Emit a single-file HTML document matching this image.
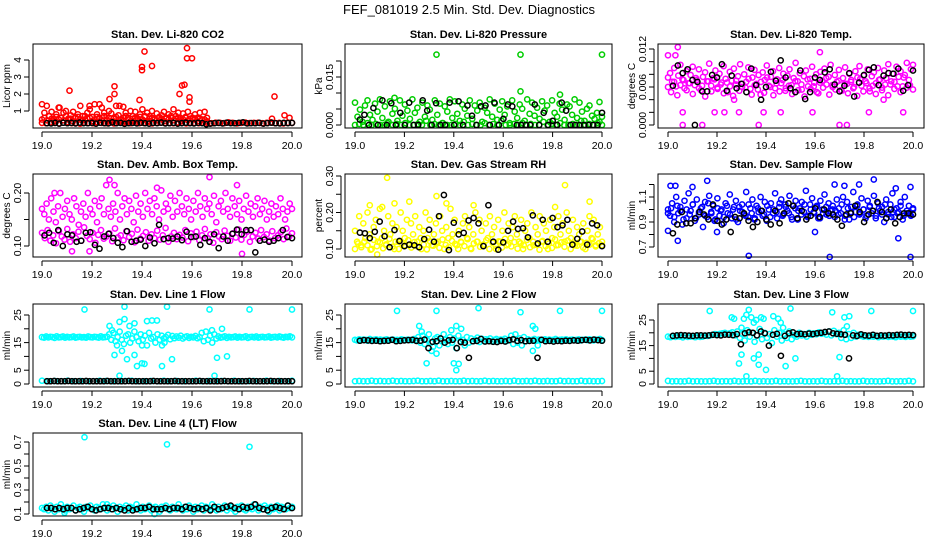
<!DOCTYPE html>
<html><head><meta charset="utf-8"><style>
html,body{margin:0;padding:0;background:#fff;}
svg{display:block;font-family:"Liberation Sans",Arial,sans-serif;}
</style></head><body>
<svg id="chart" width="936" height="540" viewBox="0 0 936 540" xmlns="http://www.w3.org/2000/svg">
<rect x="0" y="0" width="936" height="540" fill="#fff"/>
<text x="469" y="14" text-anchor="middle" font-size="13" fill="#000">FEF_081019  2.5 Min. Std. Dev. Diagnostics</text>
</svg>
<script>
// ---------- shared x ticks ----------
const xTicks = [19.0, 19.2, 19.4, 19.6, 19.8, 20.0];
const xTickLabels = ["19.0", "19.2", "19.4", "19.6", "19.8", "20.0"];

// ---------- P1 CO2 ----------
const co2RedBase = [0.3,0.28,0.33,0.3,0.27,0.31,0.35,0.29,0.3,0.26,0.32,0.3,0.28,0.34,0.3,0.29,0.31,0.27,0.33,0.3,0.3,0.28,0.32,0.29,0.3,0.35,0.27,0.3,0.31,0.29,0.3,0.28,0.33,0.3,0.27,0.31,0.3,0.29,0.32,0.3,0.28,0.31,0.3,0.29,0.33,0.3,0.27,0.3,0.32,0.29,0.3,0.31,0.28,0.3,0.33,0.29,0.3,0.27,0.31,0.3];
const co2RedHigh = [1.4,0.9,1.3,0.7,0.95,0.5,0.8,1.2,0.6,0.9,1.0,0.55,0.75,0.95,0.6,0.8,1.3,0.7,0.5,0.9,1.1,0.65,1.4,0.8,0.6,1.2,0.9,0.7,1.0,0.85,0.6,1.3,0.75,0.5,1.25,0.9,0.6,1.0,0.7,0.95,0.55,0.8,1.1,0.65,0.9,0.7,1.0,0.5,0.85,0.6,0.75,0.95,0.55,0.8,0.6,1.1,0.7,0.9,0.5,0.85,0.6,0.95,0.7,0.55,0.8,0.6,0.9,0.5,0.95,0.6];
const co2RedMid = [0.5,0.6,0.45,0.7,0.55,0.4,0.65,0.5,0.6,0.45,0.7,0.5,0.55,0.4,0.6,0.65,0.5,0.45,0.7,0.55,0.6,0.4,0.5,0.65,0.55,0.45,0.7,0.5,0.6,0.4,0.55,0.65,0.5,0.45,0.6,0.7,0.5,0.4,0.55,0.6,0.45,0.65,0.5,0.7,0.4,0.55,0.6,0.5,0.45,0.65,0.55,0.4,0.6,0.5,0.7,0.45,0.55,0.6,0.4,0.5,0.65,0.45,0.55,0.6,0.5,0.4,0.55,0.45,0.5,0.4];
const co2OutX = [19.11,19.27,19.29,19.29,19.39,19.40,19.40,19.41,19.44,19.55,19.56,19.57,19.58,19.58,19.60,19.59,19.59,19.93,19.92,19.97,19.99,19.07,19.19,19.23,19.31];
const co2OutY = [2.2,1.7,2.45,2.0,1.65,3.4,3.6,4.5,3.65,2.0,2.5,2.55,4.7,4.1,4.1,1.8,1.55,1.85,0.55,0.75,0.6,1.2,1.3,1.4,1.3];
const co2Black = [0.28,0.27,0.3,0.26,0.31,0.28,0.3,0.27,0.32,0.29,0.28,0.3,0.26,0.31,0.29,0.27,0.33,0.28,0.3,0.25,0.29,0.3,0.27,0.31,0.28,0.26,0.3,0.29,0.32,0.27,0.28,0.3,0.26,0.29,0.31,0.28,0.27,0.3,0.29,0.22,0.26,0.28,0.3,0.27,0.31,0.29,0.28,0.3,0.33,0.27,0.29,0.28,0.3,0.26,0.29,0.31,0.28,0.27,0.3,0.29,0.3];
const co2Ticks = [1,2,3,4];
const co2TickLabels = ["1","2","3","4"];

// ---------- P2 Pressure ----------
const presGreen = [0.0070,0.0026,0.0048,0.0010,0.0061,0.0077,0.0032,0.0016,0.0067,0.0042,0.0080,0.0022,0.0058,0.0006,0.0074,0.0035,0.0051,0.0013,0.0077,0.0029,0.0064,0.0045,0.0019,0.0080,0.0038,0.0054,0.0010,0.0070,0.0026,0.0061,0.0048,0.0016,0.0077,0.0032,0.0067,0.0006,0.0058,0.0042,0.0080,0.0022,0.0074,0.0035,0.0013,0.0064,0.0051,0.0029,0.0077,0.0019,0.0061,0.0045,0.0070,0.0010,0.0054,0.0038,0.0080,0.0026,0.0067,0.0016,0.0048,0.0074,0.0032,0.0058,0.0006,0.0077,0.0042,0.0022,0.0064,0.0051,0.0013,0.0080,0.0035,0.0070,0.0029,0.0054,0.0019,0.0074,0.0045,0.0061,0.0010,0.0077,0.0038,0.0026,0.0067,0.0048,0.0016,0.0064,0.0058,0.0032,0.0080,0.0022,0.0070,0.0042,0.0013,0.0051,0.0061,0.0029,0.0019,0.0038,0.0010,0.0026];
const presGreenLow = [0,0.0003,0,0.0006,0,0.0003,0,0,0.001,0,0.0003,0,0.0006,0,0,0.0003,0,0.0013,0,0.0003,0,0.0006,0,0,0.0003,0,0.001,0,0.0003,0,0,0.0006,0,0.0003,0,0.0013,0,0,0.0003,0,0.0006,0,0.0003,0,0,0.001,0,0.0003,0,0.0006,0,0,0.0003,0,0.0013,0,0.0003,0,0.0006,0];
const presOutX = [19.33,19.67,20.0,19.67,19.83,19.16,19.99];
const presOutY = [0.022,0.022,0.022,0.0105,0.0095,0.0085,0.0072];
const presBlack = [0.0017,0.0032,0,0.0053,0,0.0077,0,0.0068,0,0.0038,0,0.0070,0,0,0.0077,0.0045,0,0.0068,0,0,0.0070,0,0.0074,0,0.0061,0.0029,0,0.0058,0.0061,0,0.0070,0,0.0019,0.0064,0.0058,0,0,0,0,0.0064,0,0.0038,0,0.0013,0,0.0070,0.0045,0,0,0,0,0,0,0,0.0038];
const presTicks = [0,0.005,0.010,0.015,0.020];
const presTickLabels = ["0.000","","","0.015",""];

// ---------- P3 Li-820 Temp ----------
const tempMag = [0.0075,0.0082,0.0068,0.009,0.0061,0.0078,0.0095,0.0072,0.0058,0.0085,0.0066,0.0079,0.0092,0.0063,0.0071,0.0088,0.0055,0.0076,0.0083,0.0069,0.0097,0.0062,0.0074,0.0086,0.0059,0.0081,0.0067,0.0093,0.0073,0.0052,0.0084,0.007,0.0089,0.0064,0.0077,0.0096,0.006,0.008,0.0068,0.0091,0.0057,0.0075,0.0087,0.0065,0.0079,0.0048,0.0083,0.0071,0.0094,0.0062,0.0076,0.0085,0.0058,0.0072,0.009,0.0066,0.0081,0.0054,0.0078,0.0088,0.0063,0.0074,0.0098,0.0069,0.0082,0.0056,0.0077,0.0086,0.0061,0.0073,0.0092,0.0067,0.008,0.005,0.0084,0.007,0.0089,0.0064,0.0076,0.0095,0.006,0.0079,0.0068,0.0087,0.0055,0.0074,0.0091,0.0065,0.0081,0.0071,0.0058,0.0085,0.0075,0.0093,0.0062,0.0078,0.0069,0.0088,0.0053,0.0077,0.0083,0.0066,0.009,0.0072,0.0059,0.0086,0.0074,0.0096,0.0064,0.0081,0.0068,0.0092,0.0076,0.0085,0.0061,0.0079,0.0098,0.0071,0.0088,0.0095];
const tempMag2 = [0.006,0.0052,0.0068,0.0047,0.0063,0.0071,0.0055,0.0066,0.0049,0.0074,0.0058,0.0062,0.0045,0.0069,0.0053,0.0072,0.0057,0.0064,0.005,0.0067,0.0061,0.0046,0.007,0.0054,0.0065,0.0059,0.0073,0.0048,0.0063,0.0056,0.0068,0.0051,0.0075,0.006,0.0047,0.0066,0.0053,0.0071,0.0058,0.0062,0.0049,0.0069,0.0055,0.0064,0.0045,0.0072,0.0057,0.0061,0.0052,0.0067,0.0059,0.0074,0.0048,0.0063,0.0056,0.007,0.0054,0.0065,0.005,0.0068,0.006,0.0046,0.0073,0.0053,0.0066,0.0058,0.0062,0.0049,0.0071,0.0055,0.0064,0.0047,0.0069,0.0057,0.0061,0.0052,0.0075,0.0059,0.0063,0.0056];
const tempOutX = [19.06,19.14,19.37,19.70,19.73,19.06,19.19,19.23,19.29,19.39,19.46,19.59,19.82,19.96,19.04,19.62,19.03,19.0,19.88,19.27];
const tempOutY = [0.0,0.0,0.0,0.0,0.0,0.002,0.002,0.002,0.002,0.002,0.002,0.002,0.002,0.002,0.0123,0.0115,0.011,0.011,0.004,0.004];
const tempBlack = [0.0062,0.0094,0.0082,0.0088,0.0071,0.0068,0.0053,0.0053,0.0079,0.0075,0.0096,0.0054,0.0078,0.0058,0.0065,0.0052,0.0089,0.0063,0.0040,0.0060,0.0084,0.0070,0.0102,0.0075,0.0058,0.0052,0.0086,0.0041,0.0052,0.0075,0.0071,0.0083,0.0088,0.0064,0.0053,0.0062,0.0082,0.0045,0.0067,0.0079,0.0087,0.0091,0.0063,0.0078,0.0082,0.0081,0.0089,0.0054,0.0063,0.0086];
const tempBlackOutX = [19.11];
const tempBlackOutY = [0.0];
const tempTicks = [0,0.002,0.004,0.006,0.008,0.010,0.012];
const tempTickLabels = ["0.000","","","0.006","","","0.012"];

// ---------- P4 Amb Box Temp ----------
const ambMagHi = [0.17,0.16,0.18,0.15,0.19,0.165,0.145,0.175,0.2,0.155,0.17,0.185,0.16,0.15,0.19,0.175,0.14,0.165,0.18,0.155,0.2,0.17,0.16,0.185,0.145,0.175,0.19,0.16,0.215,0.17,0.155,0.18,0.165,0.2,0.15,0.175,0.19,0.16,0.185,0.17,0.145,0.195,0.165,0.18,0.155,0.2,0.17,0.185,0.16,0.19,0.175,0.15,0.205,0.165,0.18,0.17,0.195,0.155,0.185,0.165,0.2,0.175,0.16,0.19,0.17,0.15,0.185,0.165,0.2,0.175,0.155,0.19,0.17,0.18,0.16,0.195,0.145,0.175,0.185,0.165,0.2,0.17,0.155,0.19,0.175,0.16,0.185,0.15,0.17,0.195,0.165,0.18,0.155,0.175,0.19,0.16,0.17,0.185,0.15,0.165,0.18,0.155,0.175,0.16,0.19,0.17,0.15,0.165,0.18,0.17];
const ambMagLo = [0.125,0.115,0.13,0.11,0.12,0.105,0.128,0.118,0.112,0.132,0.108,0.122,0.115,0.127,0.11,0.135,0.119,0.113,0.125,0.106,0.121,0.13,0.114,0.118,0.124,0.109,0.133,0.116,0.12,0.111,0.128,0.117,0.123,0.107,0.131,0.114,0.119,0.126,0.11,0.122,0.115,0.129,0.112,0.12,0.134,0.108,0.118,0.125,0.113,0.121,0.116,0.13,0.109,0.124,0.117,0.127,0.111,0.12,0.132,0.115,0.122,0.106,0.126,0.118,0.113,0.129,0.119,0.11,0.124,0.116,0.131,0.112,0.121,0.127,0.108,0.118,0.125,0.114,0.13,0.117,0.122,0.11,0.128,0.115,0.12,0.126,0.113,0.133,0.118,0.124];
const ambOutX = [19.27,19.29,19.67,19.78,19.80,19.19,19.12,19.05,19.46];
const ambOutY = [0.225,0.215,0.23,0.215,0.085,0.09,0.09,0.2,0.21];
const ambBlack = [0.12,0.125,0.106,0.13,0.1,0.122,0.12,0.108,0.11,0.125,0.126,0.102,0.095,0.118,0.123,0.115,0.106,0.098,0.128,0.108,0.11,0.112,0.1,0.116,0.105,0.14,0.113,0.115,0.114,0.118,0.111,0.127,0.117,0.118,0.102,0.115,0.108,0.122,0.096,0.118,0.11,0.123,0.131,0.122,0.13,0.13,0.088,0.11,0.112,0.108,0.11,0.115,0.13,0.117,0.115];
const ambTicks = [0.10,0.15,0.20];
const ambTickLabels = ["0.10","","0.20"];

// ---------- P5 Gas Stream RH ----------
const rhYelA = [0.15,0.12,0.19,0.11,0.17,0.13,0.2,0.14,0.1,0.16,0.18,0.12,0.21,0.13,0.15,0.11,0.19,0.14,0.17,0.1,0.16,0.12,0.2,0.15,0.13,0.18,0.11,0.17,0.14,0.19,0.12,0.16,0.1,0.15,0.2,0.13,0.18,0.11,0.14,0.17,0.12,0.19,0.15,0.1,0.16,0.13,0.21,0.14,0.18,0.11,0.15,0.12,0.17,0.19,0.13,0.16,0.1,0.14,0.2,0.12,0.18,0.15,0.11,0.17,0.13,0.19,0.14,0.16,0.1,0.18,0.12,0.15,0.2,0.11,0.17,0.13,0.16,0.19,0.14,0.12,0.18,0.1,0.15,0.17,0.13,0.2,0.11,0.16,0.14,0.19,0.12,0.17,0.15,0.1,0.18,0.13,0.16,0.11,0.19,0.14,0.17,0.12,0.2,0.15,0.13,0.18,0.11,0.16,0.14,0.12,0.17,0.1,0.15,0.19,0.13,0.18,0.11,0.14,0.16,0.12];
const rhYelB = [0.1,0.115,0.105,0.12,0.11,0.098,0.125,0.108,0.118,0.102,0.113,0.128,0.106,0.12,0.1,0.116,0.11,0.124,0.104,0.119,0.107,0.13,0.112,0.099,0.121,0.109,0.117,0.103,0.126,0.111,0.105,0.122,0.114,0.1,0.118,0.108,0.127,0.102,0.115,0.12,0.106,0.112,0.124,0.1,0.117,0.109,0.121,0.104,0.128,0.113,0.107,0.119,0.101,0.116,0.11,0.125,0.105,0.12,0.112,0.098,0.122,0.108,0.115,0.103,0.126,0.111,0.118,0.106,0.123,0.1,0.114,0.109,0.12,0.104,0.117,0.112,0.127,0.107,0.116,0.11];
const rhOutX = [19.13,19.85,19.33,19.06,19.11,19.16,19.22,19.37,19.48,19.81,19.95,19.09];
const rhOutY = [0.295,0.275,0.245,0.22,0.215,0.225,0.23,0.225,0.22,0.215,0.23,0.085];
const rhBlack = [0.145,0.143,0.13,0.147,0.175,0.135,0.105,0.152,0.122,0.108,0.112,0.11,0.105,0.127,0.153,0.12,0.19,0.248,0.097,0.172,0.14,0.144,0.178,0.185,0.17,0.108,0.22,0.12,0.098,0.118,0.15,0.175,0.155,0.157,0.132,0.192,0.115,0.18,0.12,0.185,0.16,0.165,0.18,0.112,0.128,0.148,0.112,0.17,0.165,0.108];
const rhTicks = [0.10,0.15,0.20,0.25,0.30];
const rhTickLabels = ["0.10","","0.20","","0.30"];

// ---------- P6 Sample Flow ----------
const sfBlue = [1.0,0.95,1.05,0.9,1.1,0.97,1.02,0.88,1.07,0.93,1.13,0.99,1.04,0.91,1.08,0.96,1.01,0.86,1.06,0.94,1.11,0.98,1.03,0.92,1.09,0.95,1.0,0.89,1.05,0.97,1.12,0.93,1.02,1.07,0.9,0.99,1.04,0.96,1.14,0.94,1.01,1.08,0.92,1.03,0.98,1.1,0.95,1.06,0.91,1.0,1.05,0.97,1.13,0.93,1.02,1.08,0.96,1.04,0.99,1.11,0.94,1.03,1.07,0.92,1.01,1.06,0.98,1.15,0.95,1.04,1.09,0.97,1.02,0.93,1.07,1.0,1.12,0.96,1.05,0.99,1.03,0.94,1.08,1.01,0.97,1.1,0.95,1.06,0.92,1.02,1.14,0.98,1.04,0.96,1.09,1.0,0.93,1.07,1.03,0.97,1.11,0.95,1.05,0.99,1.02,0.9,1.08,0.96,1.04,1.13,0.94,1.01,0.98,1.06,0.92,1.1,0.97,1.03,0.95,1.0];
const sfBlue2 = [0.97,1.01,0.94,1.03,0.99,0.92,1.0,0.96,1.04,0.93,0.98,1.02,0.95,1.05,0.97,0.91,1.01,0.99,0.94,1.03,0.96,1.0,0.92,1.02,0.98,0.95,1.04,0.97,0.93,1.01,0.99,0.96,1.03,0.94,1.0,0.98,1.05,0.95,1.02,0.97,0.92,1.01,0.99,0.96,1.04,0.94,1.0,0.98,1.03,0.93,0.97,1.02,0.95,1.0,0.99,0.96,1.04,0.92,1.01,0.98,0.94,1.03,0.97,1.0,0.95,1.02,0.99,0.93,1.01,0.96,1.04,0.98,0.94,1.0,0.97,1.03,0.95,0.99,0.96,1.01];
const sfOutX = [19.04,19.33,19.66,19.99,19.94,19.16,19.84,19.01,19.03,19.68,19.72,19.78,19.93,19.99,19.10,19.0,19.2,19.6];
const sfOutY = [0.75,0.63,0.62,0.62,0.77,1.23,1.24,1.19,1.19,1.2,1.19,1.2,1.17,1.18,1.18,0.83,0.82,0.82];
const sfBlack = [0.81,0.88,0.98,0.89,0.89,0.93,0.98,0.96,0.92,1.04,0.91,0.88,0.92,0.82,0.94,0.93,0.97,0.91,0.86,0.9,0.99,0.92,0.88,0.99,0.89,0.97,1.05,1.03,0.93,0.99,0.92,0.95,1.01,0.94,1.0,0.97,0.96,0.92,0.87,0.96,0.97,1.03,0.98,0.9,0.96,0.99,1.06,0.98,0.93,1.0,0.89,0.94,0.97,0.97,0.96];
const sfTicks = [0.7,0.8,0.9,1.0,1.1,1.2];
const sfTickLabels = ["0.7","","0.9","","1.1",""];

// ---------- P7 Line 1 Flow ----------
const l1Cyan = [17,16.8,17.2,16.9,17.1,17,16.7,17.3,16.9,17,17.2,16.8,17.1,16.9,17,17.2,16.8,17,17.1,16.9,17,16.8,17.2,17,16.9,17.1,17,16.8,17.3,16.9,17,17.1,18,16,18.5,15.5,17,19,16,14.5,17.5,18,15,16.5,19,17,15.5,18,16,17.5,14,18.5,16.5,17,15,18,16,17.5,16.5,17,17.8,16.2,17.4,16.6,17.2,16.8,17.5,16.5,17,17.3,16.7,17.1,16.9,17.4,16.6,17,18.5,15.5,19,16,17.5,15,18,16.5,17.2,16.8,17,17.3,16.7,17.1,16.9,17,17.2,16.8,17.1,16.9,17,17.3,16.7,17,17.1,16.9,17.2,16.8,17,17.1,16.9,17,17.2,16.8,17,17.1,16.9,17.2,17,16.8,17.1,17,17.3,16.9];
const l1CyanLow = [1.2,1,1.1,1,1.2,1,1.1,1,1,1.2,1.1,1,1,1.1,1.2,1,1,1.1,1,1.2,1,1.1,1,1,1.2,1,1.1,1,1.1,1,1.2,1,1,1.1,1,1.2,1,1.1,1,1.2];
const l1OutX = [19.17,19.33,19.50,19.67,19.83,20.0,19.33,19.31,19.42,19.44,19.46,19.35,19.37,19.30,19.29,19.32,19.34,19.37,19.38,19.40,19.41,19.48,19.52,19.31,19.69,19.70,19.74,19.48,19.49,19.28,19.27,19.68,19.72,19.40];
const l1OutY = [27,28,28,27,27,27,23.5,22.5,22.8,23,23,21,22,14,10.5,12,9,10.5,6.5,7.5,7.3,6.5,9,3,3,9.5,10,14,15,19.5,21,19.5,20,14];
const l1Black = [1,1,1.1,1,1,1,1.1,1,1,1,1,1.1,1,1,1,1,1,1.1,1,1,1,1,1,1.1,1,1,1,1,1,1,1.1,1,1,1,1,1,1.1,1,1,1,1,1,1,1.1,1,1,1,1,1,1,1.1,1,1,1,1,1,1,1.1,1,1,1,1,1,1.1,1,1,1,1,1,1];
const flowTicks = [0,5,10,15,20,25];
const flowTickLabels = ["0","5","","15","","25"];

// ---------- P8 Line 2 Flow ----------
const l2Cyan = [16,15.8,16.2,15.9,16.1,16,15.7,16.3,15.9,16,16.2,15.8,16.1,15.9,16,16.2,15.8,16,16.1,15.9,16,15.8,16.2,16,15.9,16.1,16,15.8,16.3,15.9,17,15,17.5,14.5,16,18,15,13.5,16.5,17,14,15.5,18,16,14.5,17,15,16.5,13,17.5,15.5,16,14,17,15,16.5,15.5,16,16.8,15.2,16.4,15.6,16.2,15.8,16.5,15.5,16,16.3,15.7,16.1,15.9,16.4,15.6,16,17.5,14.5,18,15,16.5,14,17,15.5,16.2,15.8,16,16.3,15.7,16.1,15.9,16,16.2,15.8,16.1,15.9,16,16.3,15.7,16,16.1,15.9,16.2,15.8,16,16.1,15.9,16,16.2,15.8,16,16.1,15.9,16.2,16,15.8,16.1,16,16.3,15.9];
const l2CyanLow = [1,1.1,1,1,1.2,1,1.1,1,1,1.2,1,1.1,1,1,1.1,1.2,1,1,1.1,1,1.2,1,1,1.1,1,1,1.2,1,1.1,1,1,1.2,1,1.1,1,1,1.1,1,1.2,1,1,1.1,1,1.2,1,1,1.1,1,1,1.2,1,1.1,1,1,1.2,1,1.1,1,1,1.1];
const l2OutX = [19.17,19.33,19.50,19.67,19.83,20.0,19.26,19.27,19.29,19.31,19.33,19.39,19.41,19.43,19.40,19.41,19.42,19.72,19.73,19.72,19.74];
const l2OutY = [26.5,26.5,27.5,26,26.5,26.5,21,19,7.5,12,11,19.5,21,20,7.5,5,7.3,21,20,12,14];
const l2Black = [15.7,15.9,15.8,15.6,15.7,15.5,15.6,15.7,16,15.5,15.6,15.8,15.9,16,15.6,15.7,16.1,13,15.3,15.5,16.5,15,15.8,16,13,15.2,15,9.5,15.5,15.6,16.3,15.4,15.5,15.3,15.2,15.6,15.4,15.9,16.2,15.6,15.9,15.5,15.6,15.7,9.5,16,15.5,15.6,15.4,15.6,15.5,15.7,15.6,15.8,15.7,15.9,16,15.8,16.1,15.9,15.7];

// ---------- P9 Line 3 Flow ----------
const l3Cyan = [18.5,18.3,18.7,18.4,18.6,18.5,18.2,18.8,18.4,18.5,18.7,18.3,18.6,18.4,18.5,18.9,18.8,19,19.2,19.5,19.3,19.6,19.8,20,19.5,19.8,20.2,19,20.5,18,19.5,17,21,18.5,20,16.5,19,21.5,17.5,20,18,19.5,16,21,18.5,20,17,19.5,18,20.5,17.5,19,18.5,20,19,19.5,18.5,20,19.2,19.8,19.4,20.2,19.6,20,19.3,20.5,19,20.8,19.5,20,18,21,17.5,19.5,18,20,18.5,19.2,18.8,18.5,18.7,18.4,18.6,18.5,18.8,18.3,18.6,18.5,18.7,18.4,18.6,18.5,18.3,18.7,18.5,18.6,18.4,18.8,18.5,18.6];
const l3CyanLow = [1.2,1,1.1,1,1,1.2,1,1.1,1,1,1.1,1.2,1,1,1.1,1,1.2,1,1,1.1,1,1.2,1,1.1,1,1,1.2,1,1.1,1,1,1.1,1.2,1,1,1.1,1,1.2,1,1,1.1,1,1.2,1,1.1,1,1,1.2,1,1.1,1,1,1.1,1.2,1,1,1.1,1,1.2,1];
const l3OutX = [19.17,19.33,19.50,19.67,19.83,20.0,19.26,19.27,19.30,19.31,19.32,19.34,19.35,19.36,19.38,19.39,19.43,19.45,19.46,19.47,19.29,19.30,19.32,19.35,19.37,19.37,19.40,19.48,19.52,19.69,19.70,19.72,19.74,19.73];
const l3OutY = [28.5,29,29.5,28,28.5,28.5,26,25.5,22,25.5,27,26,24,25,26,25.5,26.5,25.5,24,22,8,11.5,3,10,11.5,7.5,5.5,7,10,3,10.5,26,26.5,22.5];
const l3Black = [18.8,19,19.1,19,18.9,18.8,19,19,18.9,19,19.2,19.1,19,19.3,19.2,19.1,19.5,15.5,19.8,20.2,20,19,20.5,19.8,15,19.2,19.6,11,18.8,19.8,20.2,19.5,19.6,19.4,19.7,19.5,19.8,20,20.3,20.5,19.8,19.6,19.4,19.2,10,19,18.8,19.4,19,18.9,19.2,18.8,19,18.9,19.1,19,19.2,19.3,19.1,19.2,19.1];
const l3Ticks = [0,5,10,15,20,25];
const l3TickLabels = ["0","5","","15","","25"];

// ---------- P10 Line 4 (LT) Flow ----------
const l4Cyan = [0.15,0.14,0.16,0.13,0.17,0.15,0.12,0.16,0.14,0.18,0.15,0.13,0.16,0.14,0.15,0.17,0.13,0.15,0.16,0.14,0.12,0.16,0.15,0.17,0.14,0.13,0.16,0.15,0.14,0.18,0.15,0.13,0.16,0.14,0.17,0.15,0.12,0.16,0.14,0.15,0.17,0.13,0.16,0.15,0.14,0.18,0.15,0.13,0.16,0.14,0.15,0.17,0.13,0.15,0.16,0.14,0.12,0.16,0.15,0.17,0.14,0.13,0.16,0.15,0.14,0.18,0.15,0.13,0.16,0.14,0.17,0.15,0.12,0.16,0.14,0.15,0.17,0.13,0.16,0.15,0.14,0.18,0.15,0.13,0.16,0.14,0.15,0.17,0.13,0.15,0.16,0.14,0.12,0.16,0.15,0.17,0.14,0.13,0.16,0.15,0.14,0.18,0.15,0.13,0.16,0.14,0.17,0.15,0.12,0.16,0.14,0.15,0.17,0.13,0.16,0.15,0.14,0.17,0.15,0.16];
const l4OutX = [19.17,19.50,19.83,19.09,19.45,19.26];
const l4OutY = [0.74,0.68,0.66,0.11,0.10,0.18];
const l4Black = [0.15,0.15,0.14,0.15,0.14,0.15,0.15,0.13,0.14,0.15,0.16,0.14,0.13,0.14,0.15,0.15,0.14,0.15,0.14,0.13,0.15,0.13,0.14,0.15,0.15,0.16,0.14,0.14,0.14,0.15,0.14,0.15,0.15,0.14,0.16,0.15,0.14,0.15,0.14,0.15,0.13,0.16,0.14,0.15,0.16,0.17,0.15,0.14,0.16,0.15,0.16,0.18,0.15,0.14,0.13,0.15,0.16,0.15,0.14,0.17,0.15];
const l4Ticks = [0.1,0.2,0.3,0.4,0.5,0.6,0.7];
const l4TickLabels = ["0.1","","0.3","","0.5","","0.7"];

// ---------- layout (pixels, not data) ----------
const colL=[33,345,658], colR=[302,612,924], colX0=[42,355,668], colX1=[292,602,913];
const rowT=[44,174,304,433], rowB=[128,257,387,516];

const panels = [
 {id:"co2",title:"Stan. Dev. Li-820 CO2",ylab:"Licor ppm",c:0,r:0,ref:[0,128,4,60],ticks:co2Ticks,labels:co2TickLabels,
  series:[{col:"#ff0000",even:[co2RedBase,19.0,20.0]},{col:"#ff0000",even:[co2RedHigh,19.0,19.66]},{col:"#ff0000",even:[co2RedMid,19.0,19.66]},{col:"#ff0000",xy:[co2OutX,co2OutY]},{col:"#000",even:[co2Black,19.02,20.0]}]},
 {id:"pressure",title:"Stan. Dev. Li-820 Pressure",ylab:"kPa",c:1,r:0,ref:[0,125,0.015,77],ticks:presTicks,labels:presTickLabels,
  series:[{col:"#00cd00",even:[presGreen,19.0,20.0]},{col:"#00cd00",even:[presGreenLow,19.0,20.0]},{col:"#00cd00",xy:[presOutX,presOutY]},{col:"#000",even:[presBlack,19.02,20.0]}]},
 {id:"li820-temp",title:"Stan. Dev. Li-820 Temp.",ylab:"degrees C",c:2,r:0,ref:[0,125,0.012,49],ticks:tempTicks,labels:tempTickLabels,
  series:[{col:"#ff00ff",even:[tempMag,19.0,20.0]},{col:"#ff00ff",even:[tempMag2,19.0,20.0]},{col:"#ff00ff",xy:[tempOutX,tempOutY]},{col:"#000",even:[tempBlack,19.02,20.0]},{col:"#000",xy:[tempBlackOutX,tempBlackOutY]}]},
 {id:"amb-box-temp",title:"Stan. Dev. Amb. Box Temp.",ylab:"degrees C",c:0,r:1,ref:[0.1,246,0.2,193],ticks:ambTicks,labels:ambTickLabels,
  series:[{col:"#ff00ff",even:[ambMagHi,19.0,20.0]},{col:"#ff00ff",even:[ambMagLo,19.0,20.0]},{col:"#ff00ff",xy:[ambOutX,ambOutY]},{col:"#000",even:[ambBlack,19.01,20.0]}]},
 {id:"gas-stream-rh",title:"Stan. Dev. Gas Stream RH",ylab:"percent",c:1,r:1,ref:[0.1,249,0.3,176],ticks:rhTicks,labels:rhTickLabels,
  series:[{col:"#ffff00",even:[rhYelA,19.0,20.0]},{col:"#ffff00",even:[rhYelB,19.0,20.0]},{col:"#ffff00",xy:[rhOutX,rhOutY]},{col:"#000",even:[rhBlack,19.02,20.0]}]},
 {id:"sample-flow",title:"Stan. Dev. Sample Flow",ylab:"ml/min",c:2,r:1,ref:[0.7,247,1.1,197],ticks:sfTicks,labels:sfTickLabels,
  series:[{col:"#0000ff",even:[sfBlue,19.0,20.0]},{col:"#0000ff",even:[sfBlue2,19.0,20.0]},{col:"#0000ff",xy:[sfOutX,sfOutY]},{col:"#000",even:[sfBlack,19.02,20.0]}]},
 {id:"line1-flow",title:"Stan. Dev. Line 1 Flow",ylab:"ml/min",c:0,r:2,ref:[0,384,25,315],ticks:flowTicks,labels:flowTickLabels,
  series:[{col:"#00ffff",even:[l1Cyan,19.0,20.0]},{col:"#00ffff",even:[l1CyanLow,19.0,20.0]},{col:"#00ffff",xy:[l1OutX,l1OutY]},{col:"#000",even:[l1Black,19.02,20.0]}]},
 {id:"line2-flow",title:"Stan. Dev. Line 2 Flow",ylab:"ml/min",c:1,r:2,ref:[0,384,25,315],ticks:flowTicks,labels:flowTickLabels,
  series:[{col:"#00ffff",even:[l2Cyan,19.0,20.0]},{col:"#00ffff",even:[l2CyanLow,19.0,20.0]},{col:"#00ffff",xy:[l2OutX,l2OutY]},{col:"#000",even:[l2Black,19.02,20.0]}]},
 {id:"line3-flow",title:"Stan. Dev. Line 3 Flow",ylab:"ml/min",c:2,r:2,ref:[0,384,25,320],ticks:l3Ticks,labels:l3TickLabels,
  series:[{col:"#00ffff",even:[l3Cyan,19.0,20.0]},{col:"#00ffff",even:[l3CyanLow,19.0,20.0]},{col:"#00ffff",xy:[l3OutX,l3OutY]},{col:"#000",even:[l3Black,19.02,20.0]}]},
 {id:"line4-flow",title:"Stan. Dev. Line 4 (LT) Flow",ylab:"ml/min",c:0,r:3,ref:[0.1,514,0.7,442],ticks:l4Ticks,labels:l4TickLabels,
  series:[{col:"#00ffff",even:[l4Cyan,19.0,20.0]},{col:"#00ffff",xy:[l4OutX,l4OutY]},{col:"#000",even:[l4Black,19.02,20.0]}]}
];

const NS="http://www.w3.org/2000/svg";
const svg=document.getElementById('chart');
function mk(tag,attrs,parent){const e=document.createElementNS(NS,tag);for(const k in attrs)e.setAttribute(k,attrs[k]);(parent||svg).appendChild(e);return e;}

panels.forEach(p=>{
  const L=colL[p.c],R=colR[p.c],T=rowT[p.r],B=rowB[p.r];
  const xs=v=>colX0[p.c]+(v-19)*(colX1[p.c]-colX0[p.c]);
  const ys=v=>p.ref[1]+(v-p.ref[0])*(p.ref[3]-p.ref[1])/(p.ref[2]-p.ref[0]);
  const g=mk('g',{});
  
  
  const clipId='clip-'+p.id;
  const cp=mk('clipPath',{id:clipId},g);
  mk('rect',{x:L,y:T-3,width:R-L,height:B-T+6},cp);
  const t=mk('text',{x:(L+R)/2,y:T-6,'text-anchor':'middle','font-size':11,'font-weight':'bold'},g);
  t.textContent=p.title;
  
  
  const yl=mk('text',{x:0,y:0,transform:`translate(${L-23},${(T+B)/2}) rotate(-90)`,'text-anchor':'middle','font-size':10},g);
  yl.textContent=p.ylab;
  
  
  const pts=mk('g',{'clip-path':`url(#${clipId})`,fill:'none','stroke-width':1.5},g);
  
  
  p.series.forEach(s=>{
    let X=[],Y=[];
    if(s.even){const [vals,t0,t1]=s.even;const n=vals.length;vals.forEach((v,i)=>{X.push(t0+(n>1?i*(t1-t0)/(n-1):0));Y.push(v);});}
    else {X=s.xy[0];Y=s.xy[1];}
    X.forEach((xv,i)=>{
      const c=mk('circle',{cx:xs(xv).toFixed(1),cy:ys(Y[i]).toFixed(1),r:2.6,stroke:s.col},pts);
      
      
    });
  });
  const box=mk('rect',{x:L,y:T,width:R-L,height:B-T,fill:'none',stroke:'#000','stroke-width':1},g);
  
  
  const yax=mk('g',{},g);
  
  
  mk('line',{x1:L-4,x2:L-4,y1:ys(p.ticks[0]),y2:ys(p.ticks[p.ticks.length-1]),stroke:'#000'},yax);
  p.ticks.forEach((tv,i)=>{
    const y=ys(tv);
    mk('line',{x1:L-9,x2:L-4,y1:y,y2:y,stroke:'#000'},yax);
    if(p.labels[i]){const tl=mk('text',{x:0,y:0,transform:`translate(${L-12},${y}) rotate(-90)`,'text-anchor':'middle','font-size':10.5},yax);tl.textContent=p.labels[i];
      
      }
  });
  const xax=mk('g',{},g);
  
  
  mk('line',{x1:xs(xTicks[0]),x2:xs(xTicks[xTicks.length-1]),y1:B+4,y2:B+4,stroke:'#000'},xax);
  xTicks.forEach((tv,i)=>{
    const x=xs(tv);
    mk('line',{x1:x,x2:x,y1:B+4,y2:B+9,stroke:'#000'},xax);
    const tl=mk('text',{x:x,y:B+21,'text-anchor':'middle','font-size':10.5},xax);
    tl.textContent=xTickLabels[i];
    
    
  });
});
</script>
</body></html>
